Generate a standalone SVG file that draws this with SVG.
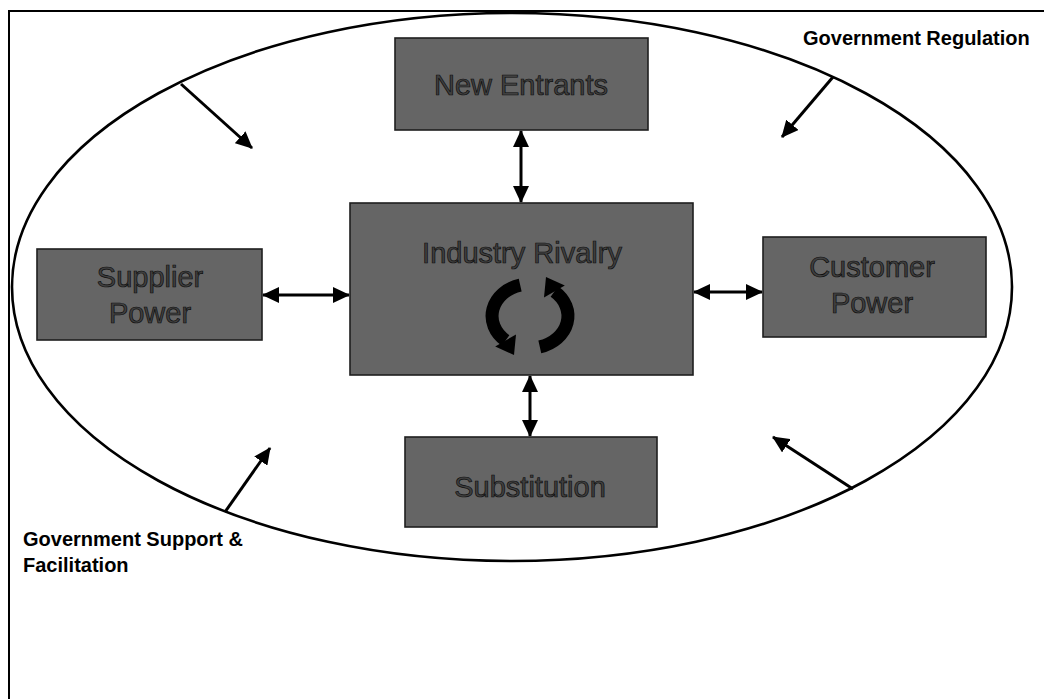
<svg xmlns="http://www.w3.org/2000/svg" width="1044" height="699" viewBox="0 0 1044 699">
  <defs>
    <style>
      .frame { fill: none; stroke: #000; stroke-width: 2; }
      .oval { fill: none; stroke: #000; stroke-width: 2.6; }
      .box { fill: #656565; stroke: #1e1e1e; stroke-width: 1.6; }
      .boxtext { font-family: "Liberation Sans", Arial, sans-serif; font-size: 29px; fill: #404040; stroke: #0d0d0d; stroke-width: 0.7; text-anchor: middle; }
      .label { font-family: "Liberation Sans", Arial, sans-serif; font-size: 20px; font-weight: bold; fill: #000; }
      .link { fill: none; stroke: #000; stroke-width: 3; }
      .ring { fill: none; stroke: #000; stroke-width: 13; }
    </style>
    <marker id="head" markerUnits="userSpaceOnUse" markerWidth="18" markerHeight="16" refX="16" refY="8" orient="auto-start-reverse">
      <path d="M0,0 L17,8 L0,16 Z" fill="#000"/>
    </marker>
  </defs>

  <!-- page frame (top and left edges) -->
  <path class="frame" d="M9,699 V11 H1044"/>

  <!-- government boundary -->
  <ellipse class="oval" cx="512" cy="287" rx="500" ry="274"/>

  <!-- connectors -->
  <g id="connectors">
    <!-- two-way links between the forces and the rivalry box -->
    <line class="link" x1="521" y1="131" x2="521" y2="202" marker-start="url(#head)" marker-end="url(#head)"/>
    <line class="link" x1="530" y1="376" x2="530" y2="436" marker-start="url(#head)" marker-end="url(#head)"/>
    <line class="link" x1="263" y1="295" x2="349" y2="295" marker-start="url(#head)" marker-end="url(#head)"/>
    <line class="link" x1="694" y1="292" x2="762" y2="292" marker-start="url(#head)" marker-end="url(#head)"/>
    <!-- government influence pointing inward -->
    <line class="link" x1="181" y1="84" x2="252" y2="148" marker-end="url(#head)"/>
    <line class="link" x1="833" y1="77" x2="782" y2="137" marker-end="url(#head)"/>
    <line class="link" x1="225" y1="512" x2="270" y2="448" marker-end="url(#head)"/>
    <line class="link" x1="853" y1="489" x2="773" y2="437" marker-end="url(#head)"/>
  </g>

  <g id="new-entrants">
    <rect class="box" x="395" y="38" width="253" height="92"/>
    <text class="boxtext" x="521" y="95">New Entrants</text>
  </g>

  <g id="industry-rivalry">
    <rect class="box" x="350" y="203" width="343" height="172"/>
    <text class="boxtext" x="522" y="263">Industry Rivalry</text>
    <!-- circular arrows -->
    <g id="cycle">
      <path class="ring" d="M539.8,346.9 A38,32 0 0 0 554.4,291.5"/>
      <path d="M546,277 L564.8,285.5 L544,297.5 Z" fill="#000"/>
      <g transform="rotate(180 530 316)">
        <path class="ring" d="M539.8,346.9 A38,32 0 0 0 554.4,291.5"/>
        <path d="M546,277 L564.8,285.5 L544,297.5 Z" fill="#000"/>
      </g>
    </g>
  </g>

  <g id="supplier-power">
    <rect class="box" x="37" y="249" width="225" height="91"/>
    <text class="boxtext" x="150" y="287">Supplier</text>
    <text class="boxtext" x="150" y="323">Power</text>
  </g>

  <g id="customer-power">
    <rect class="box" x="763" y="237" width="223" height="100"/>
    <text class="boxtext" x="872" y="277">Customer</text>
    <text class="boxtext" x="872" y="313">Power</text>
  </g>

  <g id="substitution">
    <rect class="box" x="405" y="437" width="252" height="90"/>
    <text class="boxtext" x="530" y="497">Substitution</text>
  </g>

  <g id="government-regulation">
    <text class="label" x="803" y="45">Government Regulation</text>
  </g>

  <g id="government-support">
    <text class="label" x="23" y="546">Government Support &amp;</text>
    <text class="label" x="23" y="572">Facilitation</text>
  </g>
</svg>
